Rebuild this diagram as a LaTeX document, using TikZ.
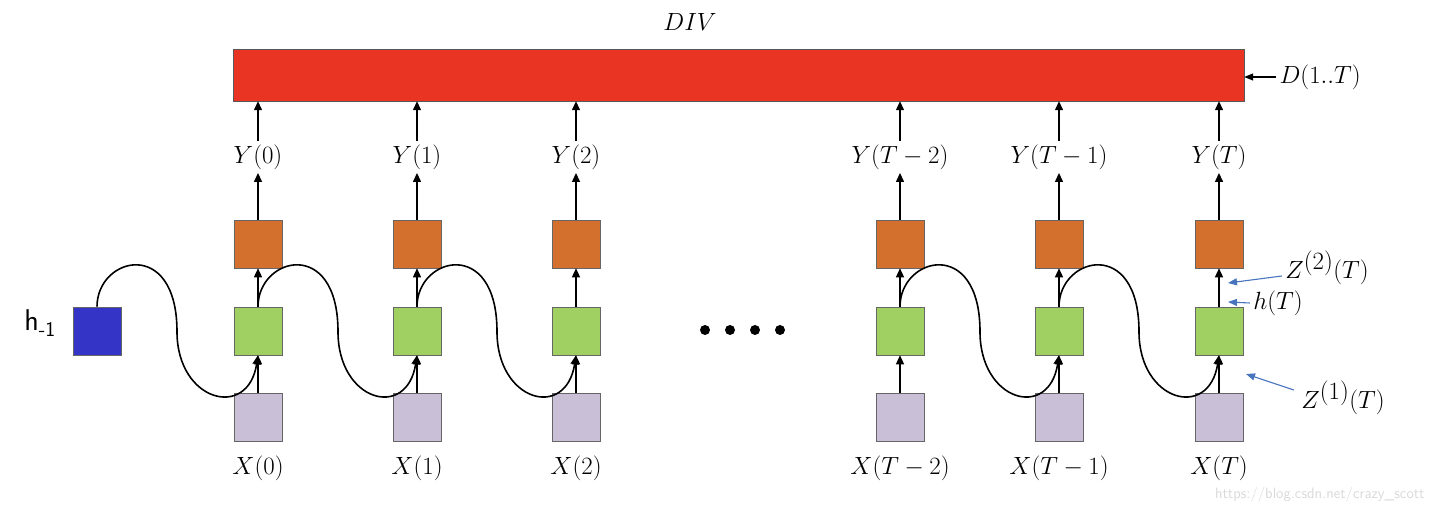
\documentclass[tikz,border=0pt]{standalone}
\usepackage{fontspec}
\usetikzlibrary{arrows.meta}
\definecolor{redbar}{RGB}{233,52,36}
\definecolor{orng}{RGB}{212,112,46}
\definecolor{grn}{RGB}{160,207,98}
\definecolor{lav}{RGB}{201,192,216}
\definecolor{blu}{RGB}{52,52,198}
\definecolor{ann}{RGB}{72,116,190}
\begin{document}
\begin{tikzpicture}[x=1pt,y=-1pt,
  box/.style={draw=gray!80!black,line width=0.6pt,minimum width=48pt,minimum height=48pt,inner sep=0pt},
  lbl/.style={font=\fontsize{33}{38}\selectfont},
  arr/.style={-{Triangle[length=9pt,width=8pt]},line width=1.3pt},
  cur/.style={line width=1.6pt},
  note/.style={-{Triangle[length=9pt,width=7pt]},ann,line width=1.1pt}]
\useasboundingbox (0,0) rectangle (1436,510);
\node[draw=gray!70!black,fill=redbar,minimum width=1011pt,minimum height=52pt,inner sep=0pt] (div) at (738.5,75) {};
\node[lbl] (divl) at (690,22) {$DIV$};
\node[lbl,anchor=west] (dl) at (1276,77) {$D(1..T)$};
\draw[-{Triangle[length=9pt,width=7pt]},line width=1.1pt] (dl.west) -- (div.east|-dl.west);
\node[box,fill=blu] (hm) at (97,331) {};
\node[font=\fontsize{30}{34}\selectfont\sffamily] (hml) at (40,323) {h\textsubscript{-1}};
\foreach \n/\x/\t in {0/258/0,1/417/1,2/576/2,3/900/T-2,4/1059/T-1,5/1219/T}{
  \node[box,fill=orng] (o\n) at (\x,244) {};
  \node[box,fill=grn] (g\n) at (\x,331) {};
  \node[box,fill=lav] (x\n) at (\x,417) {};
  \node[lbl] (yl\n) at (\x,157) {$Y(\t)$};
  \node[lbl] (xl\n) at (\x,468) {$X(\t)$};
  \draw[arr] (x\n) -- (g\n);
  \draw[arr] (g\n) -- (o\n);
  \draw[arr] (o\n) -- (yl\n);
  \draw[arr] (yl\n) -- (div.south-|yl\n);
}
\foreach \a/\b in {hm/g0,g0/g1,g1/g2,g3/g4,g4/g5}{
  \draw[cur,-{Triangle[length=9pt,width=8pt]}] (\a.north) .. controls ([yshift=50pt]\a.north) and ([xshift=80pt,yshift=70pt]\a.north) .. ([xshift=80pt,yshift=-25pt]\a.north)
    .. controls ([xshift=80pt,yshift=-95pt]\a.north) and ([xshift=-10pt,yshift=-65pt]\b.south) .. (\b.south);
}
\foreach \i/\x in {d1/705,d2/730,d3/755,d4/780}{\fill (\x,330) circle (5pt) coordinate (\i);}
\node[lbl] (z2) at (1327,268) {$Z^{(2)}(T)$};
\node[lbl] (hT) at (1278,303) {$h(T)$};
\node[lbl] (z1) at (1343,398) {$Z^{(1)}(T)$};
\coordinate (z2t) at (1228,283);
\coordinate (hTt) at (1228,302);
\coordinate (z1t) at (1246,374);
\draw[note] (z2.west) ++(0,8) -- (z2t);
\draw[note] (hT.west) -- (hTt);
\draw[note] (z1.west) ++(-4,-8) -- (z1t);
\node[font=\fontsize{15}{18}\selectfont\sffamily,text=gray!30,anchor=east] (wm) at (1428,495) {https://blog.csdn.net/crazy\_scott};
\end{tikzpicture}
\end{document}
